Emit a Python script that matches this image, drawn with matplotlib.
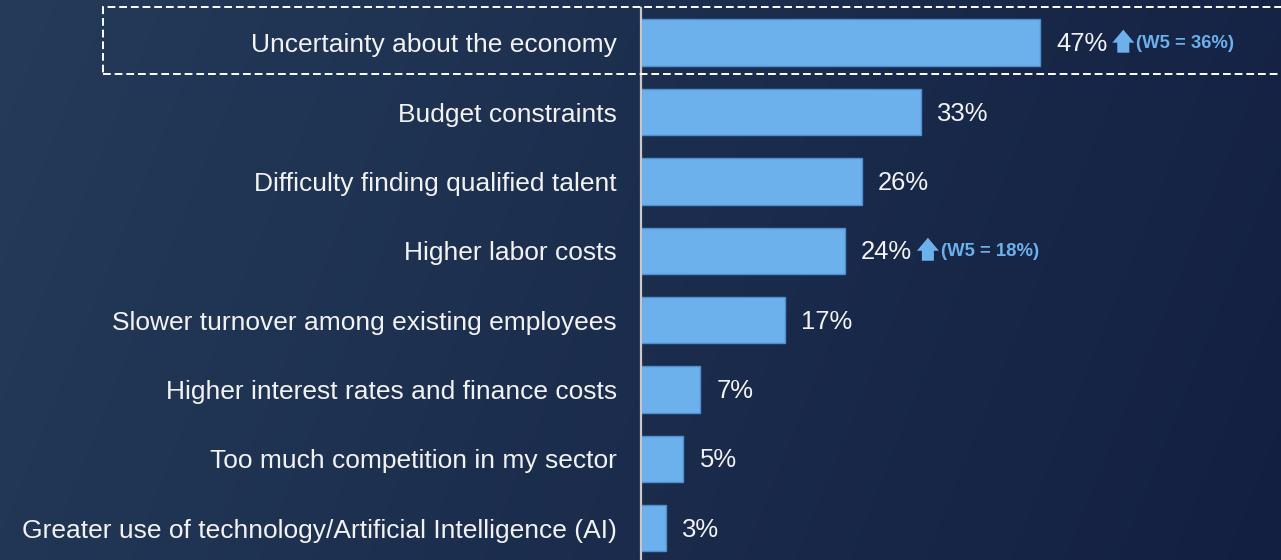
import os
import numpy as np
import matplotlib
matplotlib.use("Agg")
import matplotlib.pyplot as plt
import matplotlib.font_manager as fm
from matplotlib.patches import Rectangle, Polygon
from matplotlib.transforms import IdentityTransform

plt.rcParams["font.family"] = ["Liberation Sans", "DejaVu Sans"]

categories = [
    "Uncertainty about the economy",
    "Budget constraints",
    "Difficulty finding qualified talent",
    "Higher labor costs",
    "Slower turnover among existing employees",
    "Higher interest rates and finance costs",
    "Too much competition in my sector",
    "Greater use of technology/Artificial Intelligence (AI)",
]
values = [47, 33, 26, 24, 17, 7, 5, 3]
wave5_notes = {0: "(W5 = 36%)", 3: "(W5 = 18%)"}

BAR = "#6cb0ec"
BAR_EDGE = "#4f8fcf"
TEXT = "#f2f2f2"

W, H, DPI = 1281, 560, 100
fig = plt.figure(figsize=(W / DPI, H / DPI), dpi=DPI)
renderer = fig.canvas.get_renderer()


def fit_size(txt, target_px, size, weight="normal"):
    """Font size that makes txt span target_px pixels."""
    probe = fig.text(0, 0, txt, fontsize=size, fontweight=weight)
    w = probe.get_window_extent(renderer).width
    probe.remove()
    return size * target_px / w


cat_size = fit_size(categories[0], 367, 17)
val_size = fit_size("47%", 51.5, 17)
note_size = fit_size(wave5_notes[0], 98, 12, "bold")

# gradient background, lighter toward the upper left
bg = fig.add_axes([0, 0, 1, 1], zorder=-10)
gx, gy = np.meshgrid(np.linspace(0, 1, 400), np.linspace(0, 1, 200))
t = np.clip(0.85 * gx + 0.15 * gy, 0, 1)
c0 = np.array([36, 59, 89]) / 255.0
c1 = np.array([19, 31, 65]) / 255.0
img = c0[None, None, :] * (1 - t[..., None]) + c1[None, None, :] * t[..., None]
bg.imshow(img, aspect="auto", extent=[0, 1, 0, 1], origin="upper")
bg.axis("off")

# main bar axes
px_per_pct = 8.49
ax_left, ax_top = 641, 8
row_h = 69.36
ax_h = row_h * len(categories)
ax_w = W - ax_left
ax = fig.add_axes([ax_left / W, (H - ax_top - ax_h) / H, ax_w / W, ax_h / H])
ax.set_facecolor("none")
y = np.arange(len(categories))
ax.barh(y, values, height=0.67, color=BAR, edgecolor=BAR_EDGE, linewidth=1.0)
ax.set_ylim(len(categories) - 0.5, -0.5)
ax.set_xlim(0, ax_w / px_per_pct)
for s in ["top", "right", "bottom"]:
    ax.spines[s].set_visible(False)
ax.spines["left"].set_color("#c9c9c9")
ax.spines["left"].set_linewidth(1.6)
ax.set_xticks([])
ax.set_yticks(y)
ax.set_yticklabels(categories, fontsize=cat_size, color=TEXT)
ax.tick_params(axis="y", length=0, pad=24 * 72 / DPI)

value_texts = []
for i, v in enumerate(values):
    tx = ax.annotate(f"{v}%", xy=(v, i), xytext=(16, 1), textcoords="offset pixels",
                     va="center_baseline", ha="left", fontsize=val_size, color=TEXT)
    value_texts.append(tx)

fig.canvas.draw()

# up arrows and previous-wave notes
for i, note in wave5_notes.items():
    bb = value_texts[i].get_window_extent(renderer)
    cy = ax.transData.transform((0, i))[1]
    x0 = bb.x1 + 5
    aw, ah = 22, 23
    head_h, shaft_w = 13, 12
    top = cy + 13
    bot = top - ah
    mid = x0 + aw / 2
    pts = [
        (mid, top),
        (x0 + aw, top - head_h),
        (mid + shaft_w / 2, top - head_h),
        (mid + shaft_w / 2, bot),
        (mid - shaft_w / 2, bot),
        (mid - shaft_w / 2, top - head_h),
        (x0, top - head_h),
    ]
    fig.patches.append(Polygon(pts, closed=True, facecolor=BAR, edgecolor="none",
                               transform=IdentityTransform(), figure=fig))
    fig.text((x0 + aw + 2) / W, (cy + 1) / H, note, fontsize=note_size,
             fontweight="bold", color=BAR, va="center_baseline", ha="left")

# dashed highlight around the top item
box_x0, box_top, box_bot = 103, 7, 74
fig.patches.append(Rectangle((box_x0 / W, (H - box_bot) / H),
                             (W + 20 - box_x0) / W, (box_bot - box_top) / H,
                             transform=fig.transFigure, figure=fig, fill=False,
                             edgecolor="white", linewidth=1.4,
                             linestyle=(0, (4, 2))))

fig.savefig("out.png", dpi=DPI)
